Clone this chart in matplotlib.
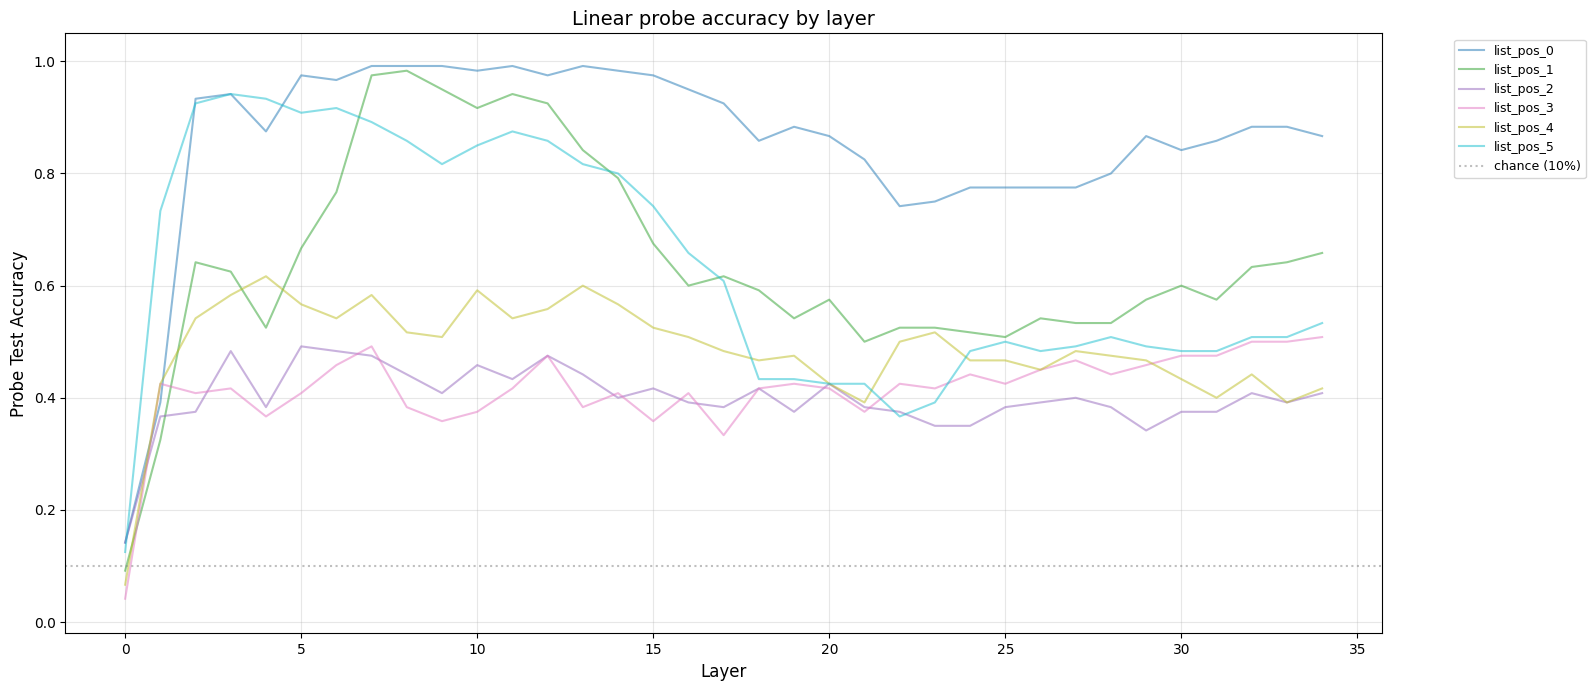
import numpy as np
import matplotlib
matplotlib.use("Agg")
import matplotlib.pyplot as plt

layers = list(range(35))

list_pos_0 = [0.1417, 0.3917, 0.9333, 0.9417, 0.875, 0.975, 0.9667, 0.9917, 0.9917, 0.9917,
              0.9833, 0.9917, 0.975, 0.9917, 0.9833, 0.975, 0.95, 0.925, 0.8583, 0.8833,
              0.8667, 0.825, 0.7417, 0.75, 0.775, 0.775, 0.775, 0.775, 0.8, 0.8667,
              0.8417, 0.8583, 0.8833, 0.8833, 0.8667]
list_pos_1 = [0.0917, 0.325, 0.6417, 0.625, 0.525, 0.6667, 0.7667, 0.975, 0.9833, 0.95,
              0.9167, 0.9417, 0.925, 0.8417, 0.7917, 0.675, 0.6, 0.6167, 0.5917, 0.5417,
              0.575, 0.5, 0.525, 0.525, 0.5167, 0.5083, 0.5417, 0.5333, 0.5333, 0.575,
              0.6, 0.575, 0.6333, 0.6417, 0.6583]
list_pos_2 = [0.1417, 0.3667, 0.375, 0.4833, 0.3833, 0.4917, 0.4833, 0.475, 0.4417, 0.4083,
              0.4583, 0.4333, 0.475, 0.4417, 0.4, 0.4167, 0.3917, 0.3833, 0.4167, 0.375,
              0.425, 0.3833, 0.375, 0.35, 0.35, 0.3833, 0.3917, 0.4, 0.3833, 0.3417,
              0.375, 0.375, 0.4083, 0.3917, 0.4083]
list_pos_3 = [0.0417, 0.425, 0.4083, 0.4167, 0.3667, 0.4083, 0.4583, 0.4917, 0.3833, 0.3583,
              0.375, 0.4167, 0.475, 0.3833, 0.4083, 0.3583, 0.4083, 0.3333, 0.4167, 0.425,
              0.4167, 0.375, 0.425, 0.4167, 0.4417, 0.425, 0.45, 0.4667, 0.4417, 0.4583,
              0.475, 0.475, 0.5, 0.5, 0.5083]
list_pos_4 = [0.0667, 0.425, 0.5417, 0.5833, 0.6167, 0.5667, 0.5417, 0.5833, 0.5167, 0.5083,
              0.5917, 0.5417, 0.5583, 0.6, 0.5667, 0.525, 0.5083, 0.4833, 0.4667, 0.475,
              0.425, 0.3917, 0.5, 0.5167, 0.4667, 0.4667, 0.45, 0.4833, 0.475, 0.4667,
              0.4333, 0.4, 0.4417, 0.3917, 0.4167]
list_pos_5 = [0.125, 0.7333, 0.925, 0.9417, 0.9333, 0.9083, 0.9167, 0.8917, 0.8583, 0.8167,
              0.85, 0.875, 0.8583, 0.8167, 0.8, 0.7417, 0.6583, 0.6083, 0.4333, 0.4333,
              0.425, 0.425, 0.3667, 0.3917, 0.4833, 0.5, 0.4833, 0.4917, 0.5083, 0.4917,
              0.4833, 0.4833, 0.5083, 0.5083, 0.5333]

series = [list_pos_0, list_pos_1, list_pos_2, list_pos_3, list_pos_4, list_pos_5]
names = ["list_pos_0", "list_pos_1", "list_pos_2", "list_pos_3", "list_pos_4", "list_pos_5"]
chance = 0.1

fig = plt.figure(figsize=(15.93, 6.90), dpi=100)
ax = fig.add_axes([65.3 / 1593, (690 - 633.3) / 690, (1382 - 65.3) / 1593, 600 / 690])

colors = plt.cm.tab10(np.linspace(0, 1, len(series)))
for vals, name, c in zip(series, names, colors):
    ax.plot(layers, vals, label=name, color=c, alpha=0.5, linewidth=1.5)

ax.axhline(chance, color="gray", linestyle=":", alpha=0.5, label="chance (10%)")

ax.set_ylim(-0.02, 1.05)
ax.set_xlabel("Layer", fontsize=12)
ax.set_ylabel("Probe Test Accuracy", fontsize=12)
ax.set_title("Linear probe accuracy by layer", fontsize=14)
ax.grid(True, alpha=0.3)
ax.legend(bbox_to_anchor=(1.05, 1), loc="upper left", fontsize=9)

fig.savefig("out.png", dpi=100)
